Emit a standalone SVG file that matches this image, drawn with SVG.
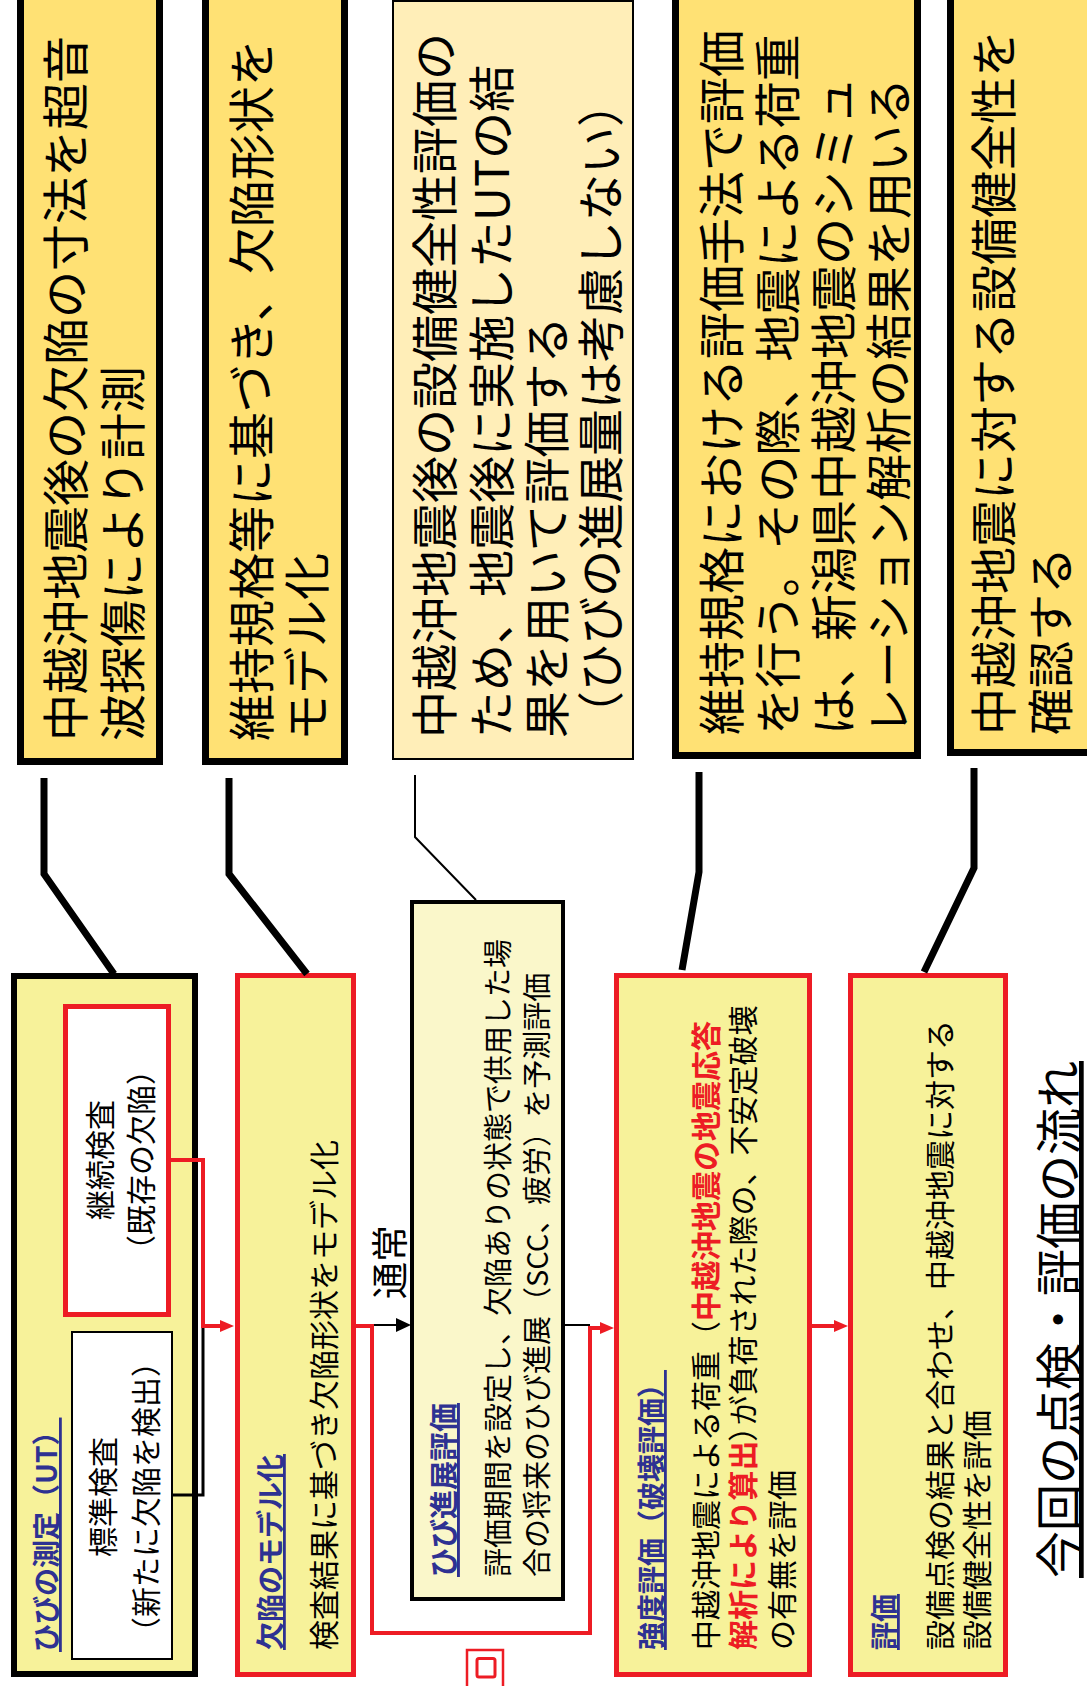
<svg xmlns="http://www.w3.org/2000/svg" width="1087" height="1686" viewBox="0 0 1087 1686">
<defs>
<style>
text{font-family:"Noto Sans CJK JP","Noto Sans CJK SC",sans-serif;fill:#000;}
.call{fill:#FFE174;stroke:#000;stroke-width:7;}
.callt{font-size:47px;}
.box{fill:#F7F29A;}
.red{stroke:#ED1C24;stroke-width:5;}
.bt{font-size:30px;}
.ttl{font-size:28px;font-weight:700;fill:#2E3192;text-decoration:underline;}
.rb{fill:#ED1C24;font-weight:700;}
.lead{fill:none;stroke:#000;stroke-width:7;}
.flow{fill:none;stroke:#ED1C24;stroke-width:4;}
.pp{font-feature-settings:"palt";}
</style>
<marker id="ra" markerUnits="userSpaceOnUse" markerWidth="16" markerHeight="12" refX="0" refY="6" orient="auto"><path d="M0,0 L14,6 L0,12 z" fill="#ED1C24"/></marker>
<marker id="ba" markerUnits="userSpaceOnUse" markerWidth="16" markerHeight="14" refX="0" refY="7" orient="auto"><path d="M0,0 L15,7 L0,14 z" fill="#000"/></marker>
</defs>
<rect width="1087" height="1686" fill="#fff"/>

<!-- callouts -->
<g id="callout-a">
<rect class="call" x="20.5" y="-10" width="139" height="771.5"/>
<text class="callt" transform="translate(83,741) rotate(-90)">中越沖地震後の欠陥の寸法を超音</text>
<text class="callt" transform="translate(140,741) rotate(-90)">波探傷により計測</text>
</g>
<g id="callout-b">
<rect class="call" x="205.5" y="-10" width="139" height="771.5"/>
<text class="callt" transform="translate(269,741) rotate(-90)">維持規格等に基づき、欠陥形状を</text>
<text class="callt" transform="translate(324,741) rotate(-90)">モデル化</text>
</g>
<g id="callout-c">
<rect x="393" y="1" width="240" height="758" fill="#FFEEB8" stroke="#000" stroke-width="2"/>
<text class="callt" transform="translate(452,738) rotate(-90)">中越沖地震後の設備健全性評価の</text>
<text class="callt" transform="translate(509,738) rotate(-90)">ため、地震後に実施したUTの結</text>
<text class="callt" transform="translate(564,738) rotate(-90)">果を用いて評価する</text>
<text class="callt" transform="translate(618,738) rotate(-90)">（ひびの進展量は考慮しない）</text>
</g>
<g id="callout-d">
<rect class="call" x="675.5" y="-10" width="242" height="765.5"/>
<text class="callt" transform="translate(739,735) rotate(-90)">維持規格における評価手法で評価</text>
<text class="callt" transform="translate(795,735) rotate(-90)">を行う。その際、地震による荷重</text>
<text class="callt" transform="translate(851,735) rotate(-90)">は、新潟県中越沖地震のシミュ</text>
<text class="callt" transform="translate(906,735) rotate(-90)">レーション解析の結果を用いる</text>
</g>
<g id="callout-e">
<rect class="call" x="950.5" y="-10" width="150" height="762.5"/>
<text class="callt" transform="translate(1011,735) rotate(-90)">中越沖地震に対する設備健全性を</text>
<text class="callt" transform="translate(1068,735) rotate(-90)">確認する</text>
</g>

<!-- lower boxes -->
<g id="node-measure">
<rect class="box" x="14" y="976" width="181" height="698" stroke="#000" stroke-width="6"/>
<text class="ttl" transform="translate(57,1652) rotate(-90)">ひびの測定（UT）</text>
</g>
<g id="node-continue">
<rect x="65.5" y="1006.5" width="103" height="308" fill="#fff" class="red"/>
<text class="bt" text-anchor="middle" transform="translate(111,1160) rotate(-90)">継続検査</text>
<text class="bt" text-anchor="middle" transform="translate(152,1160) rotate(-90)">（既存の欠陥）</text>
</g>
<g id="node-standard">
<rect x="72" y="1332" width="100" height="327" fill="#fff" stroke="#000" stroke-width="2"/>
<text class="bt" text-anchor="middle" transform="translate(114,1497) rotate(-90)">標準検査</text>
<text class="bt" text-anchor="middle" transform="translate(157,1497) rotate(-90)">（新たに欠陥を検出）</text>
</g>
<g id="node-model">
<rect class="box red" x="237.5" y="975.5" width="116" height="699"/>
<text class="ttl" transform="translate(281,1650) rotate(-90)">欠陥のモデル化</text>
<text class="bt" transform="translate(335,1650) rotate(-90)">検査結果に基づき欠陥形状をモデル化</text>
</g>
<g id="node-growth">
<rect x="412" y="902" width="151" height="697" fill="#FAF7CA" stroke="#000" stroke-width="4"/>
<text class="ttl" style="font-size:29px" transform="translate(455,1577) rotate(-90)">ひび進展評価</text>
<text class="bt" style="font-size:29px" transform="translate(509,1577) rotate(-90)">評価期間を設定し、欠陥ありの状態で供用した場</text>
<text class="bt" style="font-size:29px" transform="translate(548,1577) rotate(-90)">合の将来のひび進展（SCC、疲労）を予測評価</text>
</g>
<g id="node-strength">
<rect class="box red" x="616.5" y="975.5" width="193" height="699"/>
<text class="ttl" transform="translate(662,1650) rotate(-90)">強度評価（破壊評価）</text>
<text class="bt" transform="translate(717,1650) rotate(-90)">中越沖地震による荷重（<tspan class="rb">中越沖地震の地震応答</tspan></text>
<text class="bt" transform="translate(754,1650) rotate(-90)"><tspan class="rb">解析により算出</tspan><tspan class="pp">）</tspan>が負荷された際の、不安定破壊</text>
<text class="bt" transform="translate(793,1650) rotate(-90)">の有無を評価</text>
</g>
<g id="node-eval">
<rect class="box red" x="850.5" y="975.5" width="155" height="699"/>
<text class="ttl" transform="translate(895,1650) rotate(-90)">評価</text>
<text class="bt" transform="translate(951,1650) rotate(-90)">設備点検の結果と合わせ、中越沖地震に対する</text>
<text class="bt" transform="translate(988,1650) rotate(-90)">設備健全性を評価</text>
</g>
<g id="title">
<text style="font-size:47px;text-decoration:underline" transform="translate(1076,1578) rotate(-90)">今回の点検・評価の流れ</text>
</g>
<g id="mark">
<rect x="467" y="1650" width="36" height="45" fill="none" stroke="#ED1C24" stroke-width="2.5"/>
<rect x="477" y="1658.5" width="18" height="18.5" rx="2" fill="none" stroke="#ED1C24" stroke-width="3"/>
</g>

<!-- connectors -->
<g id="connectors">
<polyline class="lead" points="44,778 44,874 114,974"/>
<polyline class="lead" points="229,778 229,874 307,974"/>
<polyline points="415,775 415,837 476,900" fill="none" stroke="#000" stroke-width="2"/>
<polyline class="lead" points="699,772 699,872 682,970"/>
<polyline class="lead" points="974,768 974,868 924,972"/>
<polyline points="172,1495 203,1495 203,1326" fill="none" stroke="#000" stroke-width="3"/>
<path class="flow" d="M170,1160 H203 V1326 H220" marker-end="url(#ra)"/>
<path d="M356,1325 H396" fill="none" stroke="#000" stroke-width="2" marker-end="url(#ba)"/>
<path d="M564,1325 H590" fill="none" stroke="#000" stroke-width="2"/>
<path class="flow" d="M356,1326 H372 V1633 H590 V1328 H600" marker-end="url(#ra)"/>
<path class="flow" d="M812,1326 H834" marker-end="url(#ra)"/>
<text style="font-size:37px" text-anchor="middle" transform="translate(404,1262) rotate(-90)">通常</text>
</g>
</svg>
